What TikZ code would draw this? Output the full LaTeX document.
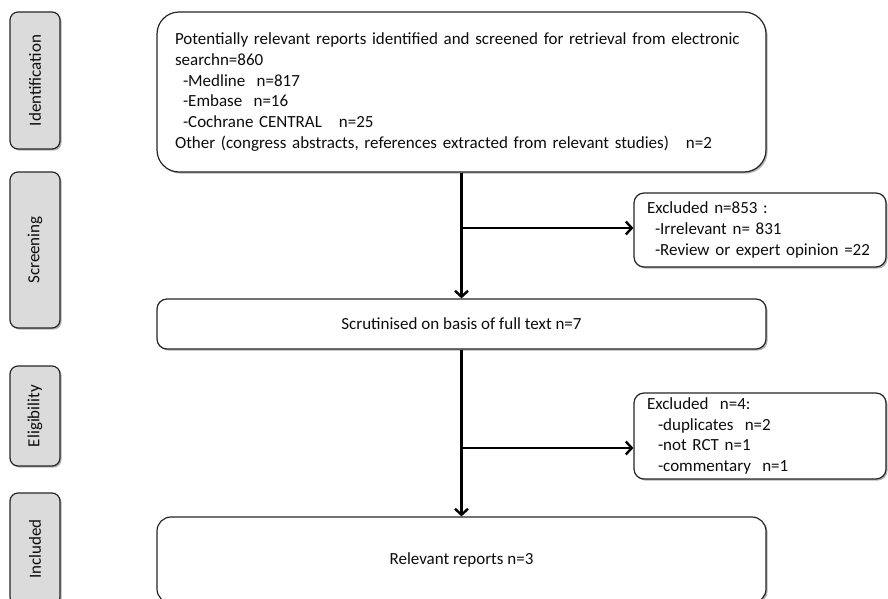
\documentclass[tikz,border=0pt]{standalone}
\usepackage{fontspec}
\setmainfont{Carlito}
\usetikzlibrary{arrows.meta,shadows}
\begin{document}
\begin{tikzpicture}[x=1pt,y=-1pt,
  every node/.style={font=\fontsize{17}{20.8}\selectfont, text=black!95},
  shad/.style={drop shadow={shadow xshift=1.6pt,shadow yshift=-1.6pt,opacity=0.3,fill=black}},
  stagebox/.style={draw=black!85, line width=1.2pt, fill=black!14, rounded corners=8pt, inner sep=0pt, minimum width=50pt, shad},
  flowbox/.style={draw=black!85, line width=1.2pt, fill=white, rounded corners=#1, inner sep=0pt, shad},
  arr/.style={line width=2.5pt, -{Straight Barb[length=6pt,width=13pt,line width=2.4pt]}}
]
\useasboundingbox (0,0) rectangle (888,599);
\clip (0,0) rectangle (888,599);
% stage labels
\node[stagebox, minimum height=137pt] (sid) at (35,80.5) {\rotatebox{90}{Identification}};
\node[stagebox, minimum height=156pt] (sscr) at (35,250) {\rotatebox{90}{Screening}};
\node[stagebox, minimum height=100pt] (selig) at (35,416) {\rotatebox{90}{Eligibility}};
\node[stagebox, minimum height=112pt] (sincl) at (35,549) {\rotatebox{90}{Included}};
% main flow
\node[flowbox=22pt, minimum width=609pt, minimum height=160pt, text width=573pt, align=left, inner xsep=18pt] (ident) at (461.5,92)
 {Potentially relevant reports identified and screened for retrieval from electronic\\
  searchn=860\\
  \hspace*{8pt}-Medline~~n=817\\
  \hspace*{8pt}-Embase~~n=16\\
  \hspace*{8pt}-Cochrane CENTRAL~~~n=25\\
  Other (congress abstracts, references extracted from relevant studies)~~~n=2};
\node[flowbox=10pt, minimum width=609pt, minimum height=50pt] (scrut) at (461.5,324) {Scrutinised on basis of full text n=7};
\node[flowbox=14pt, minimum width=609pt, minimum height=86pt] (rel) at (461.5,560) {Relevant reports n=3};
\node[flowbox=10pt, minimum width=252pt, minimum height=74pt, text width=226pt, align=left, inner xsep=13pt] (exc1) at (760,230)
 {Excluded n=853 :\\
  \hspace*{8pt}-Irrelevant n= 831\\
  \hspace*{8pt}-Review or expert opinion =22};
\node[flowbox=10pt, minimum width=252pt, minimum height=86pt, text width=226pt, align=left, inner xsep=13pt] (exc2) at (760,436)
 {Excluded~~n=4:\\
  \hspace*{11pt}-duplicates~~n=2\\
  \hspace*{11pt}-not RCT n=1\\
  \hspace*{11pt}-commentary~~n=1};
% connectors
\draw[arr] (ident.south) -- (scrut.north);
\draw[arr] (scrut.south) -- (rel.north);
\coordinate (j1) at (461.5,228);
\coordinate (j2) at (461.5,448);
\draw[arr] (j1) -- (j1 -| exc1.west);
\draw[arr] (j2) -- (j2 -| exc2.west);
\end{tikzpicture}
\end{document}
